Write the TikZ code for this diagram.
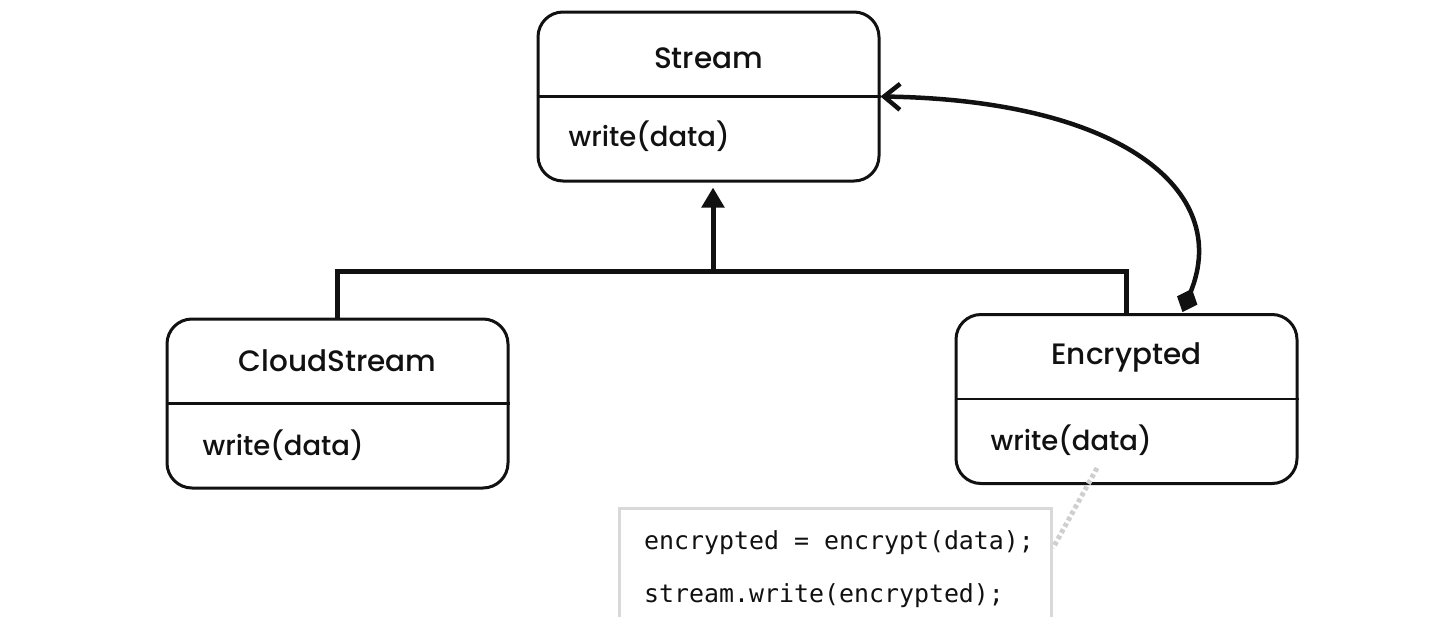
\documentclass[tikz,border=0pt]{standalone}
\usepackage{fontspec}
\setmainfont{Poppins}[UprightFont=* Medium]
\newfontfamily\codefont{DejaVu Sans Mono}
\usetikzlibrary{arrows.meta}
\definecolor{notegray}{HTML}{D9D9D9}
\definecolor{dotgray}{HTML}{CFCFCF}
\definecolor{ink}{HTML}{111111}
\begin{document}
\begin{tikzpicture}[x=1pt,y=-1pt,
  classbox/.style={draw=ink, line width=3pt, rounded corners=25pt, minimum width=341pt, minimum height=169pt, inner sep=0pt},
  titletext/.style={font=\fontsize{29.5}{34}\selectfont, text=ink, anchor=center, inner sep=0pt},
  methodtext/.style={font=\fontsize{27.5}{32}\selectfont, text=ink, anchor=west, inner sep=0pt},
  divider/.style={draw=ink, line width=2.5pt},
  inherit/.style={draw=ink, line width=5pt, line join=miter},
  aggreg/.style={draw=ink, line width=4.5pt},
  notebox/.style={draw=notegray, line width=3pt, minimum width=432pt, minimum height=133pt, inner sep=0pt, anchor=north west},
  codetext/.style={font=\codefont\fontsize{24.9}{30}\selectfont, text=ink, anchor=west, inner sep=0pt},
  notelink/.style={draw=dotgray, line width=5pt, dash pattern=on 4pt off 3pt}
]
\useasboundingbox (0,0) rectangle (1454,616);
\clip (0,0) rectangle (1454,616);

% class boxes
\node[classbox] (stream) at (708.5,96.5) {};
\node[classbox] (cloud) at (337.5,403.5) {};
\node[classbox] (enc) at (1126.5,399) {};

\foreach \b/\t/\ty/\mx/\my in {stream/Stream/38.5/32/39.5, cloud/CloudStream/42.5/37/42, enc/Encrypted/42/36/41}{
  \draw[divider] (\b.west) -- (\b.east);
  \node[titletext] (\b-title) at ([yshift=\ty pt]\b.center) {\t};
  \node[methodtext] (\b-method) at ([xshift=\mx pt,yshift=-\my pt]\b.west) {write(data)};
}

% inheritance
\coordinate (hub) at (713,271);
\draw[inherit] (cloud.north) -- (cloud.north |- hub) -- (enc.north |- hub) -- (enc.north);
\draw[inherit, shorten >=5pt, -{Triangle[length=20pt,width=22pt]}] (hub) -- (hub |- stream.south);

% aggregation
\coordinate (aggstart) at ([xshift=56pt,yshift=1pt]enc.north);
\draw[aggreg, {Diamond[length=25pt,width=22pt]}-{Straight Barb[length=16pt,width=26pt]}]
  (aggstart) .. controls (1232,190) and (1120,100) .. (stream.east);

% note
\node[notebox] (note) at (618,507) {};
\node[codetext] (code1) at (644,543) {encrypted = encrypt(data);};
\node[codetext] (code2) at (644,596) {stream.write(encrypted);};
\coordinate (linkstart) at (1097,468);
\coordinate (linkend) at (note.east |- 0,548);
\draw[notelink] (linkstart) -- (linkend);
\end{tikzpicture}
\end{document}
